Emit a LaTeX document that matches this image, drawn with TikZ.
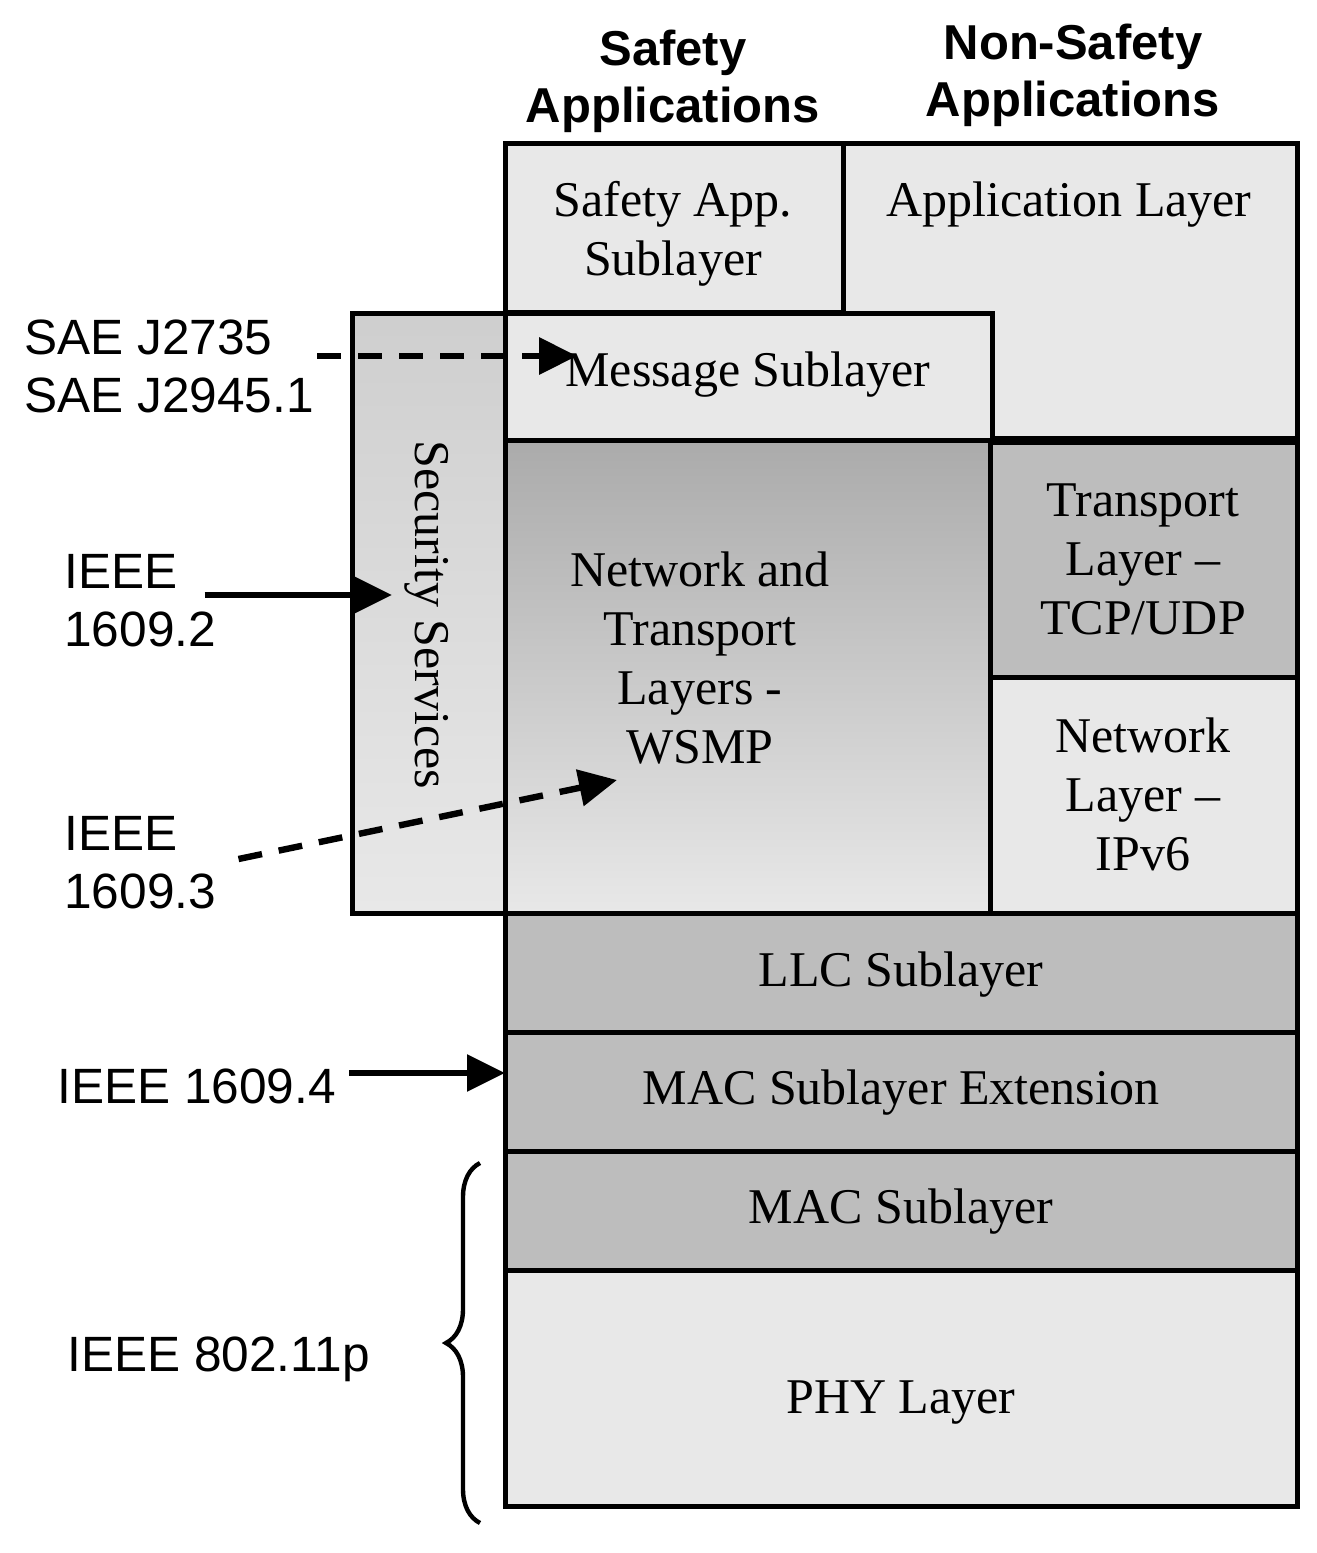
\documentclass[tikz,border=0pt]{standalone}
\usepackage{fontspec}
\setmainfont{Liberation Serif}
\setsansfont{Liberation Sans}
\usetikzlibrary{fit,arrows.meta,decorations.pathreplacing}
\begin{document}
\begin{tikzpicture}[x=0.5pt,y=-0.5pt,
  layer/.style={draw=black, line width=2.5pt, inner sep=0pt, outer sep=0pt},
  light/.style={fill=black!9},
  mid/.style={fill=black!26},
  txt/.style={font=\fontsize{25}{29.5}\selectfont, align=center, inner sep=0pt},
  lbl/.style={font=\sffamily\fontsize{24.8}{29}\selectfont, align=left, inner sep=0pt, anchor=west},
  hdr/.style={font=\sffamily\bfseries\fontsize{24.5}{28.5}\selectfont, align=center, inner sep=0pt},
  solidarrow/.style={line width=3pt, -{Triangle[length=19pt,width=18pt]}},
  dasharrow/.style={solidarrow, line width=3.2pt, dash pattern=on 12pt off 8.5pt},
]
\useasboundingbox (0,0) rectangle (1317,1553);

% headers
\node[hdr] (hsafe) at (673,81) {Safety\\Applications};
\node[hdr] (hnonsafe) at (1073,75) {Non-Safety\\Applications};

% boxes
\node[layer, light, fit={(505,143)(843,312)}] (safeapp) {};
\node[layer, light, fit={(843,143)(1297,438)}] (applayer) {};
\node[layer, top color=black!19, bottom color=black!9, fit={(352,313)(505,913)}] (security) {};
\node[layer, light, fit={(505,313)(992,440)}] (message) {};
\node[layer, top color=black!33, bottom color=black!9, fit={(505,440)(990,913)}] (wsmp) {};
\node[layer, mid, fit={(990,442)(1297,677)}] (transport) {};
\node[layer, light, fit={(990,677)(1297,913)}] (ipv6) {};
\node[layer, mid, fit={(505,913)(1297,1032)}] (llc) {};
\node[layer, mid, fit={(505,1032)(1297,1151)}] (macext) {};
\node[layer, mid, fit={(505,1151)(1297,1270)}] (mac) {};
\node[layer, light, fit={(505,1270)(1297,1506)}] (phy) {};

% box texts
\node[txt] (tsafeapp) at (673,234) {Safety App.\\Sublayer};
\node[txt] (tapplayer) at (1069,205) {Application Layer};
\node[txt, rotate=-90] (tsecurity) at (427,615) {Security Services};
\node[txt] (tmessage) at (748,375) {Message Sublayer};
\node[txt] (twsmp) at (700,658) {Network and\\Transport\\Layers -\\WSMP};
\node[txt] (ttransport) at (1143,559) {Transport\\Layer --\\TCP/UDP};
\node[txt] (tipv6) at (1143,794) {Network\\Layer --\\IPv6};
\node[txt] (tllc) at (901,975) {LLC Sublayer};
\node[txt] (tmacext) at (901,1093) {MAC Sublayer Extension};
\node[txt] (tmac) at (901,1212) {MAC Sublayer};
\node[txt] (tphy) at (901,1403) {PHY Layer};

% left labels
\node[lbl] (sae) at (24,366) {SAE J2735\\SAE J2945.1};
\node[lbl] (ieee2) at (64,601) {IEEE\\1609.2};
\node[lbl] (ieee3) at (64,863) {IEEE\\1609.3};
\node[lbl] (ieee4) at (57,1086) {IEEE 1609.4};
\node[lbl] (ieee11) at (67,1359) {IEEE 802.11p};

% arrow tips
\coordinate (msgtip) at (577,356);
\coordinate (sectip) at (392,595);
\coordinate (wsmptip) at (617,780);
\coordinate (mactip) at (505,1073);

\draw[dasharrow] ([xshift=1.5pt]sae.east |- msgtip) -- (msgtip);
\draw[solidarrow] ([xshift=-6pt]ieee2.east |- sectip) -- (sectip);
\draw[dasharrow] ([xshift=11pt,yshift=2pt]ieee3.east) -- (wsmptip);
\draw[solidarrow] ([xshift=6.5pt]ieee4.east |- mactip) -- (mactip);

% brace
\coordinate (bracebot) at (480,1523);
\coordinate (bracetop) at (480,1163);
\draw[line width=2.2pt, decorate, decoration={brace, amplitude=17pt}] (bracebot) -- (bracetop);
\end{tikzpicture}
\end{document}
